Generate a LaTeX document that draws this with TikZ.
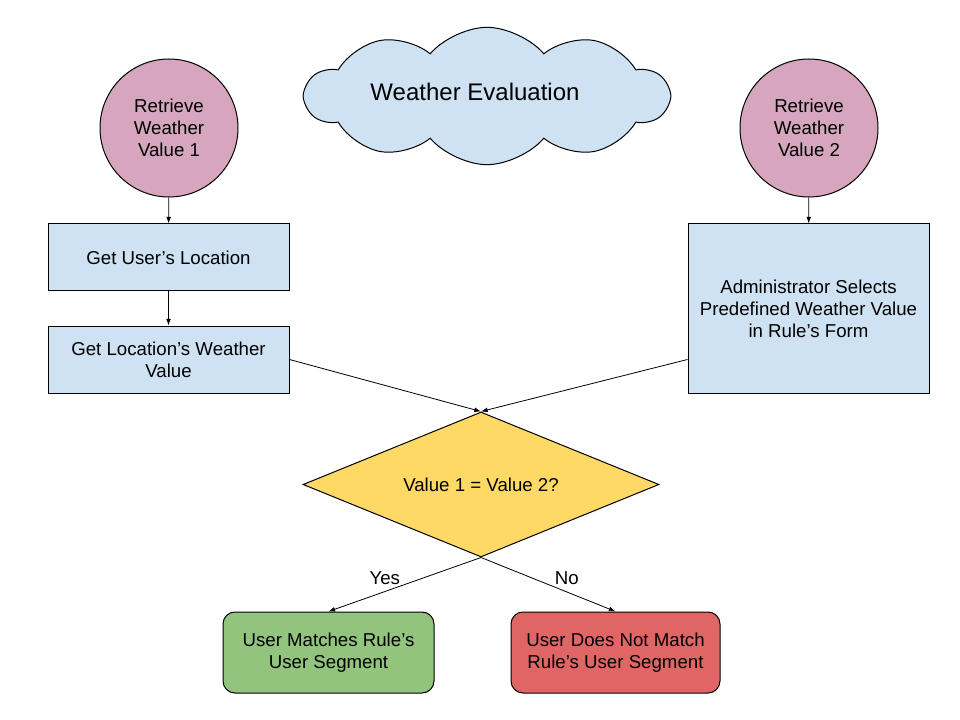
\documentclass[tikz,border=0pt]{standalone}
\usepackage{fontspec}
\setmainfont{Liberation Sans}
\usetikzlibrary{shapes.geometric,shapes.symbols,arrows.meta}
\definecolor{bluec}{HTML}{CFE2F3}
\definecolor{pinkc}{HTML}{D5A6BD}
\definecolor{yellowc}{HTML}{FFD966}
\definecolor{greenc}{HTML}{93C47D}
\definecolor{redc}{HTML}{E06666}
\begin{document}
\begin{tikzpicture}[x=0.75pt,y=-0.75pt,
  base/.style={draw=black, line width=0.75pt, align=center, font=\fontsize{14}{16.5}\selectfont, inner sep=2pt},
  circ/.style={base, circle, fill=pinkc, minimum size=103.5pt},
  procbox/.style={base, rectangle, fill=bluec, minimum width=180.75pt, minimum height=50.25pt},
  endbox/.style={base, rectangle, rounded corners=9pt, minimum height=60.75pt},
  conn/.style={draw=black, line width=0.6pt, -{Latex[length=5pt,width=3.6pt]}},
  lbl/.style={font=\fontsize{14}{16.5}\selectfont, inner sep=0pt}
]
\useasboundingbox (0,0) rectangle (960,720);
\fill[white] (0,0) rectangle (960,720);

\node[base, cloud, cloud puffs=10, cloud puff arc=100, cloud ignores aspect,
      fill=bluec, minimum width=272pt, minimum height=103pt,
      font=\fontsize{18}{21}\selectfont] (cloud) at (487,96) {\raisebox{7pt}{Weather Evaluation}\hspace*{18pt}};

\node[circ] (c1) at (169,128) {Retrieve\\Weather\\Value 1};
\node[circ] (c2) at (809,128) {Retrieve\\Weather\\Value 2};

\node[procbox] (b1) at (168.5,257.5) {Get User’s Location};
\node[procbox] (b2) at (168.5,359.5) {Get Location’s Weather\\Value};
\node[procbox, minimum height=126.75pt] (b3) at (808.5,308.5) {Administrator Selects\\Predefined Weather Value\\in Rule’s Form};

\node[base, diamond, aspect=2.455, fill=yellowc, inner sep=0pt, minimum width=267pt, minimum height=108.75pt] (dia) at (481,484.5) {Value 1 = Value 2?};

\node[endbox, fill=greenc, minimum width=158.25pt] (yes) at (328.5,652.5) {User Matches Rule’s\\User Segment};
\node[endbox, fill=redc, minimum width=156.75pt] (no) at (615.5,652.5) {User Does Not Match\\Rule’s User Segment};

\draw[conn] (c1) -- (b1);
\draw[conn] (b1) -- (b2);
\draw[conn] (c2) -- (b3);
\draw[conn] (b2.east) -- (dia.north);
\draw[conn] (b3.west |- b2.east) -- (dia.north);
\draw[conn] (dia.south) -- node[lbl, pos=0.5, xshift=-15pt, yshift=5pt] (lyes) {Yes} (yes.north);
\draw[conn] (dia.south) -- node[lbl, pos=0.5, xshift=14pt, yshift=5pt] (lno) {No} (no.north);
\end{tikzpicture}
\end{document}
